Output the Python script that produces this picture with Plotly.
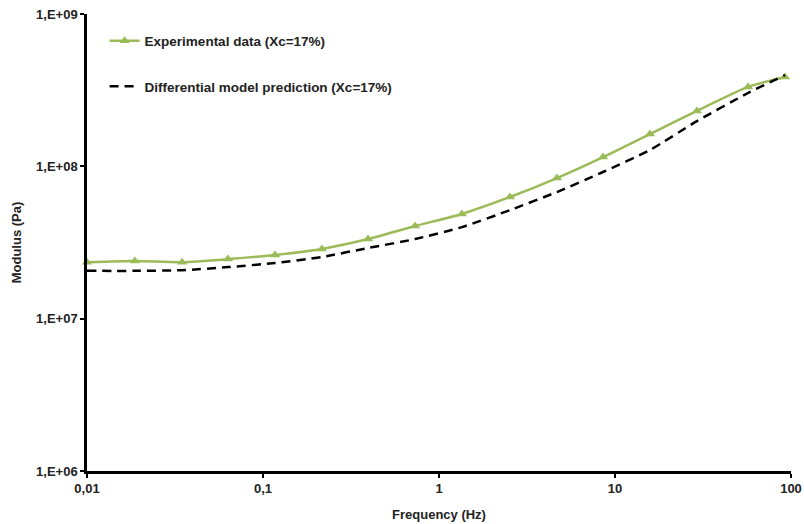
import plotly.graph_objects as go

# Frequencies (Hz)
freq = [0.01, 0.0187, 0.0347, 0.0632, 0.117, 0.216, 0.395, 0.731,
        1.35, 2.53, 4.68, 8.55, 15.8, 29.2, 57.0, 92.5]
# Experimental modulus (Pa), Xc=17%
exp_modulus = [2.35e7, 2.39e7, 2.35e7, 2.46e7, 2.62e7, 2.87e7, 3.33e7, 4.06e7,
               4.87e7, 6.29e7, 8.38e7, 1.15e8, 1.63e8, 2.31e8, 3.32e8, 3.86e8]
# Differential model prediction (Pa), Xc=17%
model_modulus = [2.06e7, 2.06e7, 2.08e7, 2.18e7, 2.32e7, 2.54e7, 2.91e7, 3.33e7,
                 3.99e7, 5.16e7, 6.78e7, 9.18e7, 1.28e8, 1.98e8, 3.03e8, 3.97e8]

x_tickvals = [0.01, 0.1, 1, 10, 100]
x_ticktext = ["0,01", "0,1", "1", "10", "100"]
y_tickvals = [1e6, 1e7, 1e8, 1e9]
y_ticktext = ["1,E+06", "1,E+07", "1,E+08", "1,E+09"]

FONT = "Liberation Sans, Arial, sans-serif"
GREEN = "#9BBB59"
TXT = "#222222"

fig = go.Figure()
fig.add_trace(go.Scatter(
    x=freq, y=exp_modulus, mode="lines+markers",
    name="<b>Experimental data (Xc=17%)</b>",
    line=dict(color=GREEN, width=2.5, shape="spline", smoothing=0.6),
    marker=dict(symbol="triangle-up", size=9, color=GREEN),
    cliponaxis=False, legendgroup="a",
))
fig.add_trace(go.Scatter(
    x=freq, y=model_modulus, mode="lines",
    name="<b>Differential model prediction (Xc=17%)</b>",
    line=dict(color="black", width=2.5, dash="9px,6px", shape="spline", smoothing=0.6),
    cliponaxis=False, legendgroup="b",
))

fig.update_layout(
    width=804, height=524,
    margin=dict(l=87, r=13, t=14, b=53),
    paper_bgcolor="white", plot_bgcolor="white",
    font=dict(family=FONT, size=13, color=TXT),
    legend=dict(
        x=0.025, y=0.975, xanchor="left", yanchor="top",
        bgcolor="rgba(0,0,0,0)", tracegroupgap=25,
        font=dict(family=FONT, size=13.5, color=TXT),
    ),
    xaxis=dict(
        type="log", range=[-2, 2], automargin=False,
        tickvals=x_tickvals, ticktext=x_ticktext,
        showgrid=False, zeroline=False,
        showline=True, linecolor="black", linewidth=2.5,
        ticks="outside", ticklen=4, tickwidth=1.5, tickcolor="black",
        tickfont=dict(family=FONT, size=13, color=TXT, weight="bold"),
        title=dict(text="<b>Frequency (Hz)</b>", font=dict(family=FONT, size=13), standoff=15),
    ),
    yaxis=dict(
        type="log", range=[6, 9], automargin=False,
        tickvals=y_tickvals, ticktext=y_ticktext,
        showgrid=False, zeroline=False,
        showline=True, linecolor="black", linewidth=2.5,
        ticks="outside", ticklen=4, tickwidth=1.5, tickcolor="black",
        tickfont=dict(family=FONT, size=13, color=TXT, weight="bold"),
        title=dict(text="<b>Modulus (Pa)</b>", font=dict(family=FONT, size=13), standoff=12),
    ),
)

fig.write_html(
    "out.html",
    config={"displayModeBar": False},
    post_script="document.body.style.margin='0';document.body.style.overflow='hidden';",
)
